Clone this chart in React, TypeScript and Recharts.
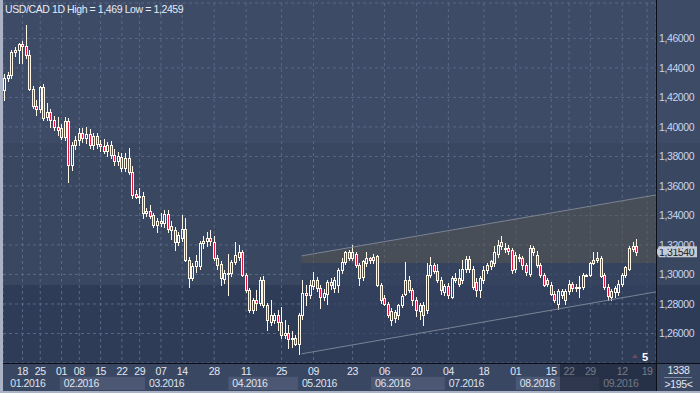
import {
  ComposedChart,
  Bar,
  Area,
  XAxis,
  YAxis,
  CartesianGrid,
  ReferenceArea,
  ReferenceLine,
} from "recharts";

// [open, high, low, close]
type Candle = [number, number, number, number];

const jan: Candle[] = [
  [1.425, 1.436, 1.418, 1.433], [1.433, 1.437, 1.431, 1.435], [1.435, 1.452, 1.433, 1.451],
  [1.451, 1.454, 1.448, 1.452], [1.452, 1.457, 1.4434, 1.456], [1.456, 1.458, 1.443, 1.455],
  [1.455, 1.469, 1.447, 1.449], [1.449, 1.452, 1.425, 1.426], [1.426, 1.428, 1.413, 1.414],
  [1.414, 1.418, 1.408, 1.412], [1.412, 1.428, 1.41, 1.427], [1.427, 1.429, 1.405, 1.406],
  [1.4068, 1.4163, 1.4047, 1.4102], [1.4102, 1.4122, 1.4, 1.4047], [1.4047, 1.4075, 1.398, 1.4],
  [1.4, 1.4068, 1.3946, 1.398],
];
const feb: Candle[] = [
  [1.399, 1.402, 1.392, 1.3932], [1.3932, 1.4068, 1.391, 1.404], [1.404, 1.406, 1.363, 1.374],
  [1.374, 1.39, 1.371, 1.388], [1.388, 1.394, 1.385, 1.391], [1.391, 1.399, 1.388, 1.396],
  [1.396, 1.399, 1.39, 1.3925], [1.3925, 1.4, 1.389, 1.395], [1.395, 1.3985, 1.386, 1.388],
  [1.388, 1.396, 1.385, 1.394], [1.394, 1.396, 1.386, 1.3885], [1.3885, 1.391, 1.384, 1.387],
  [1.387, 1.392, 1.382, 1.3835], [1.3835, 1.39, 1.38, 1.388], [1.388, 1.3905, 1.379, 1.381],
  [1.381, 1.385, 1.374, 1.377], [1.377, 1.383, 1.374, 1.38], [1.3795, 1.382, 1.37, 1.3722],
  [1.3722, 1.3824, 1.37, 1.379], [1.379, 1.3858, 1.368, 1.3695], [1.3695, 1.3736, 1.3518, 1.354],
  [1.3545, 1.357, 1.352, 1.3525], [1.3525, 1.3586, 1.3485, 1.3535], [1.3535, 1.356, 1.3383, 1.3417],
];
const mar: Candle[] = [
  [1.3417, 1.345, 1.3395, 1.343], [1.343, 1.347, 1.338, 1.3395], [1.3403, 1.342, 1.332, 1.3336],
  [1.3336, 1.338, 1.329, 1.336], [1.336, 1.342, 1.333, 1.335], [1.335, 1.344, 1.332, 1.341],
  [1.341, 1.344, 1.329, 1.331], [1.33, 1.336, 1.324, 1.333], [1.33, 1.332, 1.3166, 1.322],
  [1.322, 1.329, 1.32, 1.327], [1.325, 1.34, 1.323, 1.331], [1.331, 1.338, 1.309, 1.31],
  [1.31, 1.312, 1.2915, 1.2976], [1.2976, 1.308, 1.296, 1.306], [1.306, 1.313, 1.302, 1.309],
  [1.306, 1.323, 1.304, 1.321], [1.321, 1.326, 1.318, 1.323], [1.323, 1.329, 1.319, 1.325],
  [1.325, 1.33, 1.32, 1.323], [1.322, 1.326, 1.31, 1.311], [1.311, 1.313, 1.304, 1.3064],
  [1.307, 1.309, 1.293, 1.2976], [1.297, 1.303, 1.294, 1.301],
];
const apr: Candle[] = [
  [1.3, 1.314, 1.286, 1.301], [1.301, 1.31, 1.299, 1.3085], [1.3085, 1.322, 1.307, 1.313],
  [1.312, 1.32, 1.31, 1.315], [1.315, 1.3166, 1.299, 1.2997], [1.2997, 1.301, 1.288, 1.2895],
  [1.2895, 1.291, 1.2745, 1.2759], [1.2759, 1.284, 1.274, 1.2827], [1.2827, 1.2895, 1.276, 1.281],
  [1.281, 1.298, 1.279, 1.2963], [1.2963, 1.299, 1.278, 1.2793], [1.2793, 1.281, 1.2624, 1.2692],
  [1.268, 1.2827, 1.266, 1.2725], [1.2692, 1.274, 1.267, 1.2725], [1.2725, 1.276, 1.2624, 1.2676],
  [1.2676, 1.2779, 1.257, 1.259], [1.259, 1.2692, 1.257, 1.2605], [1.2605, 1.266, 1.2505, 1.256],
  [1.256, 1.262, 1.251, 1.257], [1.257, 1.259, 1.2525, 1.253],
];
const may: Candle[] = [
  [1.253, 1.274, 1.2459, 1.2725], [1.2725, 1.2963, 1.27, 1.2875], [1.2875, 1.2929, 1.2793, 1.286],
  [1.286, 1.2963, 1.284, 1.2929], [1.292, 1.3015, 1.29, 1.2963], [1.2963, 1.298, 1.289, 1.2908],
  [1.2908, 1.293, 1.2773, 1.2847], [1.2847, 1.29, 1.283, 1.2875], [1.2865, 1.296, 1.28, 1.295],
  [1.295, 1.2975, 1.29, 1.2929], [1.2905, 1.298, 1.288, 1.2963], [1.293, 1.3043, 1.288, 1.303],
  [1.303, 1.3112, 1.301, 1.3085], [1.3085, 1.316, 1.307, 1.315], [1.315, 1.3166, 1.31, 1.3115],
  [1.3115, 1.32, 1.3095, 1.3153], [1.314, 1.315, 1.305, 1.3064], [1.3064, 1.3075, 1.2929, 1.2976],
  [1.298, 1.31, 1.296, 1.309], [1.308, 1.315, 1.306, 1.311], [1.311, 1.312, 1.308, 1.3098],
];
const jun: Candle[] = [
  [1.3098, 1.314, 1.308, 1.312], [1.3125, 1.3135, 1.292, 1.2929], [1.2929, 1.2945, 1.281, 1.2827],
  [1.284, 1.286, 1.279, 1.28], [1.28, 1.2815, 1.271, 1.2725], [1.2692, 1.277, 1.2658, 1.275],
  [1.2745, 1.276, 1.268, 1.2705], [1.2725, 1.28, 1.27, 1.279], [1.2793, 1.287, 1.278, 1.2855],
  [1.287, 1.3085, 1.286, 1.2963], [1.2963, 1.299, 1.288, 1.2895], [1.2895, 1.291, 1.279, 1.2827],
  [1.2827, 1.285, 1.272, 1.276], [1.275, 1.281, 1.27, 1.279], [1.279, 1.2815, 1.2658, 1.2725],
  [1.276, 1.3078, 1.274, 1.2997], [1.2997, 1.3118, 1.298, 1.3064], [1.3064, 1.308, 1.301, 1.3023],
  [1.3023, 1.307, 1.295, 1.2963], [1.2963, 1.2985, 1.287, 1.2895],
];
const jul: Candle[] = [
  [1.288, 1.2935, 1.286, 1.292], [1.292, 1.294, 1.284, 1.2861], [1.285, 1.299, 1.284, 1.2976],
  [1.2976, 1.301, 1.295, 1.2965], [1.2976, 1.304, 1.292, 1.2935], [1.296, 1.31, 1.294, 1.304],
  [1.304, 1.3125, 1.302, 1.3105], [1.3105, 1.3125, 1.302, 1.304], [1.304, 1.306, 1.29, 1.2915],
  [1.295, 1.2975, 1.2855, 1.2895], [1.2895, 1.299, 1.285, 1.2975], [1.296, 1.306, 1.294, 1.303],
  [1.303, 1.308, 1.301, 1.3064], [1.306, 1.31, 1.304, 1.309], [1.308, 1.319, 1.306, 1.315],
  [1.314, 1.3234, 1.312, 1.32], [1.322, 1.326, 1.317, 1.319], [1.318, 1.3215, 1.315, 1.3175],
  [1.318, 1.32, 1.314, 1.316], [1.3166, 1.318, 1.301, 1.303],
];
const aug: Candle[] = [
  [1.304, 1.315, 1.302, 1.313], [1.312, 1.314, 1.309, 1.3115], [1.3115, 1.3125, 1.304, 1.3064],
  [1.3064, 1.308, 1.2997, 1.302], [1.3, 1.32, 1.299, 1.318], [1.318, 1.319, 1.313, 1.315],
  [1.313, 1.316, 1.305, 1.3064], [1.3064, 1.3075, 1.298, 1.2997], [1.2997, 1.301, 1.292, 1.2929],
  [1.296, 1.2975, 1.292, 1.2935], [1.2929, 1.295, 1.2861, 1.287], [1.287, 1.2885, 1.2815, 1.283],
  [1.28, 1.29, 1.2765, 1.2885], [1.286, 1.29, 1.284, 1.2885], [1.283, 1.29, 1.28, 1.289],
  [1.289, 1.2965, 1.287, 1.2935], [1.2935, 1.295, 1.289, 1.2905], [1.2905, 1.2935, 1.289, 1.2915],
  [1.2915, 1.299, 1.285, 1.2912], [1.2912, 1.301, 1.29, 1.2997], [1.2997, 1.3003, 1.299, 1.2998],
  [1.2998, 1.3085, 1.299, 1.308],
];
const sep: Candle[] = [
  [1.308, 1.315, 1.307, 1.3098], [1.3098, 1.315, 1.3085, 1.311], [1.311, 1.3125, 1.298, 1.299],
  [1.2995, 1.301, 1.29, 1.2915], [1.2915, 1.2935, 1.2827, 1.2855], [1.285, 1.29, 1.2827, 1.289],
  [1.288, 1.292, 1.285, 1.2905], [1.288, 1.296, 1.286, 1.2935], [1.2935, 1.301, 1.292, 1.2997],
  [1.2997, 1.306, 1.298, 1.305], [1.304, 1.319, 1.303, 1.318], [1.3175, 1.322, 1.316, 1.319],
  [1.319, 1.324, 1.313, 1.3154],
];

const dayTicks = [5, 10, 16, 21, 27, 33, 38, 44, 50, 59, 68, 78, 87, 98, 107, 116, 125, 135, 144, 154, 159, 165, 174, 181];
const dayLabels = ["18", "25", "01", "08", "15", "22", "29", "07", "14", "28", "11", "25", "09", "23", "06", "20", "04", "18", "01", "15", "22", "29", "12", "19"];

const monthNames = ["01.2016", "02.2016", "03.2016", "04.2016", "05.2016", "06.2016", "07.2016", "08.2016", "09.2016"];
const monthStarts = [0.4, 15.5, 39.5, 63, 82.6, 103.2, 124, 144, 167.5];

const priceTicks = [1.26, 1.28, 1.3, 1.32, 1.34, 1.36, 1.38, 1.4, 1.42, 1.44, 1.46];

// trend channel drawn on the chart
const chanX = [83.6, 183.5];
const chanUpper = [1.3126, 1.3539];
const chanLower = [1.2462, 1.2882];
const chanSplit = 1.3078;

const candles = [...jan, ...feb, ...mar, ...apr, ...may, ...jun, ...jul, ...aug, ...sep];
const data = candles.map(([o, h, l, c], i) => ({ i, open: o, high: h, low: l, close: c, range: [l, h] }));
const channel = chanX.map((x, k) => ({ i: x, lo: chanLower[k], mid: chanSplit, up: chanUpper[k] }));
const lastClose = candles[candles.length - 1][3];

const X_MAX = 183.5;
const CREAM = "#fff8e6";
const RED = "#e3163f";
const fmt = (v: number) => v.toFixed(5).replace(".", ",");

const CandleShape = (props: any) => {
  const { x, width, payload } = props;
  let { y, height } = props;
  if (!payload || height == null) return null;
  if (height < 0) {
    y += height;
    height = -height;
  }
  const { open, high, low, close } = payload;
  const span = high - low || 1e-9;
  const toY = (v: number) => y + ((high - v) / span) * height;
  const cx = Math.floor(x + width / 2) + 0.5;
  const top = Math.round(toY(Math.max(open, close)));
  let bot = Math.round(toY(Math.min(open, close)));
  if (bot - top < 1) bot = top + 1;
  const hy = Math.round(toY(high));
  const ly = Math.round(toY(low));
  const up = close >= open;
  return (
    <g>
      {hy < top && <line x1={cx} x2={cx} y1={hy} y2={top} stroke={CREAM} />}
      {ly > bot && <line x1={cx} x2={cx} y1={bot + 1} y2={ly + 1} stroke={CREAM} />}
      <rect x={cx - 1} y={top + 0.5} width={2} height={bot - top} fill={up ? "none" : RED} stroke={CREAM} />
    </g>
  );
};

const PriceTag = (props: any) => {
  const vb = props.viewBox || {};
  const yy = vb.y;
  const xr = vb.x + vb.width;
  return (
    <g>
      <polygon
        points={`${xr},${yy} ${xr + 3},${yy - 5.5} ${xr + 41},${yy - 5.5} ${xr + 41},${yy + 5.5} ${xr + 3},${yy + 5.5}`}
        fill="#c6cad2"
      />
      <text x={xr + 3} y={yy + 4} fontSize={10.5} fill="#161a28">
        {fmt(lastClose)}
      </text>
    </g>
  );
};

const abs = (s: React.CSSProperties): React.CSSProperties => ({ position: "absolute", ...s });

export default function App() {
  return (
    <div
      style={{
        position: "relative",
        width: 700,
        height: 393,
        overflow: "hidden",
        fontFamily: "'Liberation Sans', Arial, sans-serif",
        letterSpacing: "-0.4px",
        background:
          "linear-gradient(to bottom, #3d4b67 0px, #3d4b67 143px, #3a4760 143px, #3a4760 285px, #2f3c58 285px, #2f3c58 363px, #3a4763 363px, #3a4763 393px)",
      }}
    >
      <style>{"body{margin:0}"}</style>
      <ComposedChart width={700} height={393} data={data} margin={{ top: 3, right: 0, bottom: 0, left: 3 }}>
        <XAxis
          dataKey="i"
          type="number"
          domain={[-0.5, X_MAX]}
          allowDataOverflow
          ticks={dayTicks}
          interval={0}
          tickFormatter={(v) => dayLabels[dayTicks.indexOf(v)] ?? ""}
          axisLine={false}
          tickLine={false}
          tickSize={0}
          tickMargin={5}
          height={30}
          tick={{ fill: "#e3e8f1", fontSize: 10.5 }}
        />
        <XAxis xAxisId="ch" dataKey="i" type="number" domain={[-0.5, X_MAX]} allowDataOverflow hide />
        <YAxis
          orientation="right"
          width={44}
          domain={[1.24, 1.484]}
          allowDataOverflow
          ticks={priceTicks}
          tickFormatter={fmt}
          axisLine={false}
          tickLine={false}
          tickSize={0}
          tickMargin={3}
          tick={{ fill: "#c9d6ee", fontSize: 10.5 }}
        />
        <Area
          xAxisId="ch"
          data={channel}
          dataKey={(d: any) => [d.lo, d.mid]}
          type="linear"
          stroke="none"
          fill="#34425f"
          fillOpacity={0.7}
          isAnimationActive={false}
        />
        <Area
          xAxisId="ch"
          data={channel}
          dataKey={(d: any) => [d.mid, d.up]}
          type="linear"
          stroke="none"
          fill="#56564f"
          fillOpacity={0.5}
          isAnimationActive={false}
        />
        <CartesianGrid strokeDasharray="3 3" stroke="#5a6887" />
        <ReferenceLine
          segment={[{ x: chanX[0], y: chanUpper[0] }, { x: chanX[1], y: chanUpper[1] }]}
          stroke="#7b8394"
          ifOverflow="visible"
        />
        <ReferenceLine
          segment={[{ x: chanX[0], y: chanLower[0] }, { x: chanX[1], y: chanLower[1] }]}
          stroke="#7b8394"
          ifOverflow="visible"
        />
        {monthNames.map((m, k) => (
          <ReferenceArea
            key={m}
            x1={monthStarts[k]}
            x2={k + 1 < monthStarts.length ? monthStarts[k + 1] : X_MAX}
            y1={1.2217}
            y2={1.2307}
            ifOverflow="visible"
            fill={k % 2 === 1 ? "#4c5873" : "transparent"}
            fillOpacity={1}
            stroke="none"
            label={{ value: m, position: "insideLeft", offset: 4, fill: "#dfe4ee", fontSize: 10.5 }}
          />
        ))}
        <Bar dataKey="range" shape={<CandleShape />} isAnimationActive={false} />
        <ReferenceLine y={lastClose} stroke="none" ifOverflow="visible" label={PriceTag} />
      </ComposedChart>

      <div style={abs({ left: 5, top: 3, fontSize: 10.5, lineHeight: "12px", color: "#e6ecf6", whiteSpace: "nowrap" })}>
        USD/CAD 1D High = 1,469 Low = 1,2459
      </div>
      <div style={abs({ left: 560, top: 364, width: 96, height: 27, background: "rgba(22,29,48,0.55)" })} />
      <div style={abs({ left: 3, top: 363, width: 697, height: 1, background: "#0b0e16" })} />
      <div style={abs({ left: 656, top: 0, width: 1, height: 391, background: "#0b0e16" })} />
      <div style={abs({ left: 0, top: 0, width: 3, height: 393, background: "#a9b3c5" })} />
      <div style={abs({ left: 0, top: 391, width: 700, height: 2, background: "#a9b3c5" })} />
      <div
        style={abs({
          left: 632,
          top: 354,
          width: 0,
          height: 0,
          borderLeft: "3px solid transparent",
          borderRight: "3px solid transparent",
          borderBottom: "4px solid #6b4c5f",
        })}
      />
      <div style={abs({ left: 642, top: 351, fontSize: 11, lineHeight: "12px", color: "#ffffff", fontWeight: "bold" })}>5</div>
      <div style={abs({ left: 657, top: 364, width: 43, textAlign: "center", fontSize: 10.5, lineHeight: "12px", color: "#e3e8f1" })}>
        1338
      </div>
      <div style={abs({ left: 664, top: 377, width: 28, height: 1, background: "#7c8aa3" })} />
      <div style={abs({ left: 657, top: 378, width: 43, textAlign: "center", fontSize: 10.5, lineHeight: "12px", color: "#e3e8f1" })}>
        &gt;195&lt;
      </div>
    </div>
  );
}
